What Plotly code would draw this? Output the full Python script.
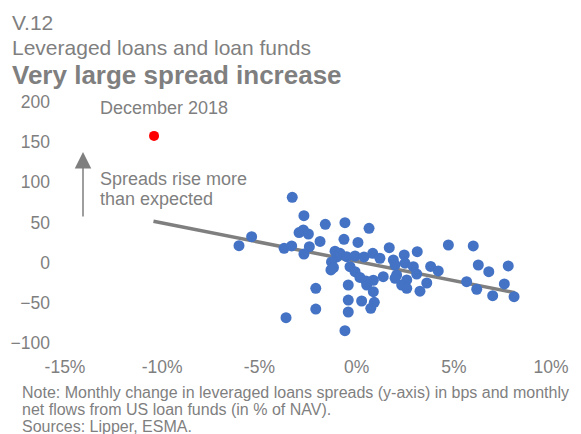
import plotly.graph_objects as go

# Monthly net flows (% of NAV) and spread changes (bps)
flows = [-3.31, -2.71, -1.61, -0.60, -2.96, -2.74, -2.48, -1.88, -0.65, 0.07,
         0.64, -5.40, -6.05, -3.73, -3.34, -2.43, -2.71, -1.11, -1.01, -1.29,
         -1.19, -1.32, -0.85, -0.51, -0.08, 0.38, 0.83, 1.20, 1.68, 1.89,
         2.45, 3.12, 4.72, 6.00, -0.34, -0.08, 0.17, -0.43, 0.52, 0.86,
         1.37, 2.06, 2.49, 2.92, 3.09, 2.58, 2.32, 2.58, 3.26, 3.61,
         3.81, 4.20, 5.66, 6.18, 6.26, 6.80, 7.80, 7.60, 7.00, 8.10,
         -0.43, 0.26, 0.91, 0.73, -0.43, -2.10, -2.10, -3.63, -0.60, 1.98,
         0.48, 1.98, 0.86]
spreads = [81.4, 58.5, 47.8, 49.8, 37.4, 40.7, 35.7, 26.4, 29.1, 25.2,
           42.8, 32.4, 21.2, 17.9, 20.8, 19.9, 10.8, 14.2, 7.1, 0.9,
           -6.0, -9.1, 11.7, 7.5, 8.3, 7.1, 11.7, 5.5, 18.7, 3.4,
           9.6, 13.7, 22.0, 20.8, -5.0, -11.2, -18.4, -27.8, -27.8, -21.9,
           -17.4, -15.3, -0.7, -5.0, -14.1, -21.5, -27.8, -31.9, -35.5, -25.3,
           -4.7, -10.3, -23.7, -33.1, -2.9, -11.2, -4.1, -26.5, -41.1, -42.3,
           -46.5, -47.7, -49.3, -56.8, -61.4, -31.9, -57.7, -68.5, -84.7, -2.9,
           -22.8, -19.4, -36.1]

dec2018_flow = [-10.42]
dec2018_spread = [157.8]

trend_x = [-10.45, 8.15]
trend_y = [51.6, -37.4]

x_ticks = [-15, -10, -5, 0, 5, 10]
x_labels = ["-15%", "-10%", "-5%", "0%", "5%", "10%"]
y_ticks = [-100, -50, 0, 50, 100, 150, 200]

GRAY = "#7f7f7f"
FONT = "Liberation Sans, Arial, sans-serif"
W, H = 581, 434
L, R, T, B = 65, 551, 102, 343


def px(xp):
    return (xp - L) / (R - L)


def py(yp):
    return (B - yp) / (B - T)


fig = go.Figure()
fig.add_trace(go.Scatter(x=trend_x, y=trend_y, mode="lines",
                         line=dict(color=GRAY, width=3.5), hoverinfo="skip",
                         showlegend=False))
fig.add_trace(go.Scatter(x=flows, y=spreads, mode="markers",
                         marker=dict(color="#4472C4", size=11, line=dict(width=0)),
                         showlegend=False))
fig.add_trace(go.Scatter(x=dec2018_flow, y=dec2018_spread, mode="markers",
                         marker=dict(color="#FF0000", size=10, line=dict(width=0)),
                         showlegend=False))

ann = []


def text(s, xp, yp, size, bold=False, anchor="left"):
    ann.append(dict(text=("<b>%s</b>" % s) if bold else s, x=px(xp), y=py(yp),
                    xref="paper", yref="paper", xanchor=anchor, yanchor="middle",
                    showarrow=False, font=dict(family=FONT, size=size, color=GRAY)))


text("V.12", 10, 22, 21)
text("Leveraged loans and loan funds", 10, 48, 21)
text("Very large spread increase", 10, 75, 26, bold=True)
text("December 2018", 98, 108, 18)
text("Spreads rise more", 98, 179, 18)
text("than expected", 98, 199, 18)
text("Note: Monthly change in leveraged loans spreads (y-axis) in bps and monthly", 20, 392, 16)
text("net flows from US loan funds (in % of NAV).", 20, 409, 16)
text("Sources: Lipper, ESMA.", 20, 426, 16)

ann.append(dict(x=px(83), y=py(152), xref="paper", yref="paper",
                ax=0, ay=66, axref="pixel", ayref="pixel", text="",
                showarrow=True, arrowhead=2, arrowsize=2.2, arrowwidth=1.5,
                arrowcolor=GRAY))

fig.update_layout(
    width=W, height=H,
    margin=dict(l=L, r=W - R, t=T, b=H - B),
    paper_bgcolor="white", plot_bgcolor="white",
    font=dict(family=FONT, size=17, color=GRAY),
    annotations=ann,
    xaxis=dict(range=[-15, 10], tickvals=x_ticks, ticktext=x_labels,
               showgrid=False, zeroline=False, showline=False, ticks="",
               tickfont=dict(size=17.5, color=GRAY), ticklabelstandoff=11),
    yaxis=dict(range=[-100, 200], tickvals=y_ticks,
               showgrid=False, zeroline=False, showline=False, ticks="",
               tickfont=dict(size=17.5, color=GRAY), ticklabelstandoff=14),
)

fig.write_html("out.html", config={"displayModeBar": False},
               post_script="document.body.style.margin='0';")
